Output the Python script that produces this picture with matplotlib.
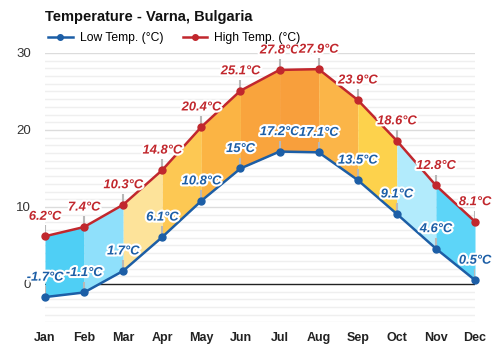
import matplotlib.pyplot as plt
import matplotlib.patheffects as pe
from matplotlib.lines import Line2D

plt.rcParams['font.family'] = ['Liberation Sans', 'DejaVu Sans']

months = ["Jan", "Feb", "Mar", "Apr", "May", "Jun",
          "Jul", "Aug", "Sep", "Oct", "Nov", "Dec"]
low_temp = [-1.7, -1.1, 1.7, 6.1, 10.8, 15, 17.2, 17.1, 13.5, 9.1, 4.6, 0.5]
high_temp = [6.2, 7.4, 10.3, 14.8, 20.4, 25.1, 27.8, 27.9, 23.9, 18.6, 12.8, 8.1]
# one colour per month-to-month band
band_colors = ["#4fcff5", "#8fe0fb", "#fde39a", "#fdc853", "#fbb444",
               "#f9a43d", "#f89f3c", "#fbb548", "#fdd24c", "#b2ebfc", "#5dd5f8"]

low_color = "#1c5ea6"
high_color = "#c1272d"

fig = plt.figure(figsize=(5, 3.5), dpi=100)
ax = fig.add_axes([0.09, 0.0786, 0.86, 0.77])

x = list(range(len(months)))

# grid: fine lines every degree, heavier every 10
for v in range(-5, 31):
    if v == 0:
        continue
    ax.axhline(v, color="#dcdcdc" if v % 10 == 0 else "#efefef",
               lw=1.0, zorder=0)
ax.axhline(0, color="#222222", lw=1.0, zorder=1)

for i in range(len(months) - 1):
    ax.fill_between([i, i + 1], [low_temp[i], low_temp[i + 1]],
                    [high_temp[i], high_temp[i + 1]],
                    color=band_colors[i], lw=0, zorder=2)

# little stems under the value labels
for i in x:
    ax.plot([i, i], [high_temp[i], high_temp[i] + 1.4], color="#b8b8b8",
            lw=1.5, zorder=3, solid_capstyle="butt")
    ax.plot([i, i], [low_temp[i], low_temp[i] + 1.4], color="#b8b8b8",
            lw=1.5, zorder=3, solid_capstyle="butt")

ax.plot(x, low_temp, color=low_color, lw=1.8, marker="o", ms=5,
        zorder=5, clip_on=False)
ax.plot(x, high_temp, color=high_color, lw=1.8, marker="o", ms=5,
        zorder=5, clip_on=False)

stroke = [pe.withStroke(linewidth=3, foreground="white")]
for i in x:
    lab = f"{high_temp[i]:g}°C"
    ax.annotate(lab, (i, high_temp[i]), xytext=(0, 14), textcoords="offset points",
                ha="center", va="center", fontsize=9.3, fontweight="bold",
                fontstyle="italic", color=high_color, path_effects=stroke,
                zorder=6, annotation_clip=False)
    lab = f"{low_temp[i]:g}°C"
    ax.annotate(lab, (i, low_temp[i]), xytext=(0, 14), textcoords="offset points",
                ha="center", va="center", fontsize=9.3, fontweight="bold",
                fontstyle="italic", color=low_color, path_effects=stroke,
                zorder=6, annotation_clip=False)

ax.set_xlim(0, 11)
ax.set_ylim(-5, 30)
ax.set_xticks(x)
ax.set_xticklabels(months, fontsize=9, fontweight="bold", color="#222222")
ax.set_yticks([0, 10, 20, 30])
ax.set_yticklabels(["0", "10", "20", "30"], fontsize=9.5, color="#333333")
ax.tick_params(length=0, pad=7)
ax.tick_params(axis="y", pad=10)
for s in ax.spines.values():
    s.set_visible(False)

fig.text(0.09, 0.95, "Temperature - Varna, Bulgaria", fontsize=10.5,
         fontweight="bold", color="#111111", va="center")

handles = [Line2D([], [], color=low_color, lw=1.8, marker="o", ms=4),
           Line2D([], [], color=high_color, lw=1.8, marker="o", ms=4)]
fig.legend(handles, ["Low Temp. (°C)", "High Temp. (°C)"], loc="center left",
           bbox_to_anchor=(0.075, 0.89), ncol=2, frameon=False, fontsize=8.7,
           handlelength=2.0, handletextpad=0.6, columnspacing=1.6)

fig.savefig("out.png", dpi=100)
